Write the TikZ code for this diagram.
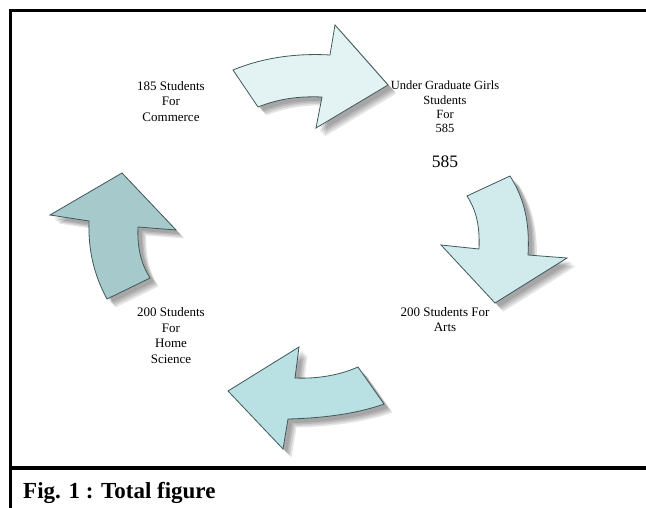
\documentclass[tikz,border=0pt]{standalone}
\usepackage{fontspec}
\setmainfont{Liberation Serif}
\definecolor{edgec}{HTML}{3F585B}
\definecolor{fillA}{HTML}{E3F3F4}
\definecolor{fillB}{HTML}{D1EBED}
\definecolor{fillC}{HTML}{B9E0E3}
\definecolor{fillD}{HTML}{A6C9CC}
\tikzset{
  shadowlayer/.style={preaction={fill=black, draw=none, fill opacity=0.10,
    transform canvas={shift={(#1pt,-#1pt)}}}},
  bigarrow/.style={draw=edgec, line width=0.8pt, line join=miter,
    shadowlayer=4, shadowlayer=5.5, shadowlayer=7, shadowlayer=8.5},
  lbl/.style={align=center, inner sep=0pt},
  frameline/.style={line width=3pt, draw=black}
}
\begin{document}
\begin{tikzpicture}[x=1pt,y=-1pt]
\useasboundingbox (0,0) rectangle (646,508);
% frame
\draw[frameline] (10.7,508) -- (10.7,10.7) -- (646,10.7);
\draw[line width=4pt] (9.2,468) -- (646,468);
% top arrow (to the right)
\path[bigarrow, fill=fillA] (233,70) .. controls (262,58) and (295,53) .. (330,55)
  -- (335,25) -- (388,85) -- (316,128) -- (322,97)
  .. controls (298,96) and (278,99) .. (258,107) -- cycle;
% right arrow (downwards)
\path[bigarrow, fill=fillB] (510,176) .. controls (524,198) and (530,222) .. (528,255)
  -- (567,258) -- (495,303) -- (441,245) -- (479,249)
  .. controls (480,225) and (476,210) .. (467,196) -- cycle;
% bottom arrow (to the left)
\path[bigarrow, fill=fillC] (228,391) -- (299,347) -- (295,378)
  .. controls (318,379) and (340,375) .. (358,367) -- (384,404)
  .. controls (362,412) and (330,418) .. (288,419) -- (283,449) -- cycle;
% left arrow (upwards)
\path[bigarrow, fill=fillD] (122,173) -- (176,230) -- (138,227)
  .. controls (137,250) and (142,265) .. (150,278) -- (107,299)
  .. controls (94,275) and (88,250) .. (89,221) -- (50,215) -- cycle;
% labels
\node[lbl, font=\fontsize{13}{15.5}\selectfont] (commerce) at (171,101.5) {185 Students\\For\\Commerce};
\node[lbl, font=\fontsize{12.5}{14.3}\selectfont] (girls) at (445,107) {Under Graduate Girls\\Students\\For\\585};
\node[lbl, font=\fontsize{17.5}{20}\selectfont] (total) at (445,162) {585};
\node[lbl, font=\fontsize{13}{15}\selectfont] (arts) at (445,320) {200 Students For\\Arts};
\node[lbl, font=\fontsize{13}{15.4}\selectfont] (home) at (171,335.5) {200 Students\\For\\Home\\Science};
\node[anchor=base west, inner sep=0pt, font=\fontsize{23}{26}\selectfont\bfseries] (caption) at (23,498) {Fig. 1 : Total figure};
\end{tikzpicture}
\end{document}
